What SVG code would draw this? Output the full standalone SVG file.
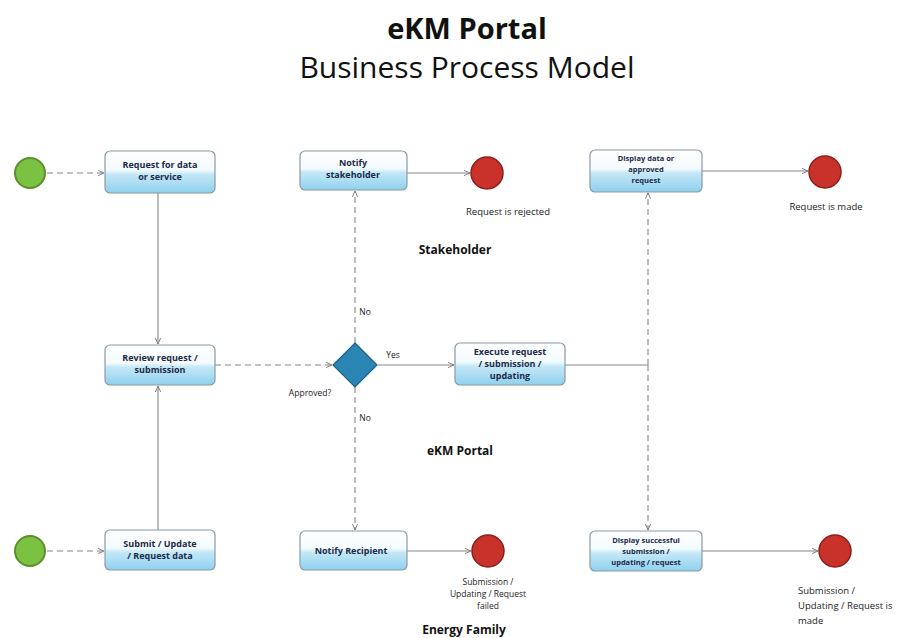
<svg xmlns="http://www.w3.org/2000/svg" width="920" height="638" viewBox="0 0 920 638">
<defs>
<linearGradient id="tg" x1="0" y1="0" x2="0" y2="1">
<stop offset="0" stop-color="#ffffff"/>
<stop offset="0.45" stop-color="#f4fbfe"/>
<stop offset="0.55" stop-color="#c4e8f6"/>
<stop offset="1" stop-color="#8fd0ee"/>
</linearGradient>
<marker id="ar" viewBox="0 0 10 10" refX="9" refY="5" markerWidth="6" markerHeight="6" orient="auto">
<path d="M0,1 L9,5 L0,9" fill="none" stroke="#777" stroke-width="1.4"/>
</marker>
<style>
.task rect{fill:url(#tg);stroke:#8a9aa6;stroke-width:1.2}
.task text{font-family:"Open Sans","Liberation Sans",sans-serif;font-size:9px;font-weight:bold;fill:#1b2a4a;text-anchor:middle}
.task text.sm{font-size:7.5px}
.start{fill:#7cc242;stroke:#5a8f2c;stroke-width:2}
.end{fill:#c8322b;stroke:#8e1e1a;stroke-width:1.5}
.lbl{font-family:"Open Sans","Liberation Sans",sans-serif;font-size:9.5px;fill:#222}
.lbl.s{font-size:8.5px}
.lane{font-family:"Open Sans","Liberation Sans",sans-serif;font-size:12px;font-weight:bold;fill:#111;text-anchor:middle}
.c line,.c path{stroke:#888;stroke-width:1.1;fill:none}
.d{stroke-dasharray:6 4}
</style>
</defs>
<rect width="920" height="638" fill="#ffffff"/>
<g id="title">
<text x="467" y="39" font-family="'Open Sans','Liberation Sans',sans-serif" font-size="29" font-weight="bold" fill="#111" text-anchor="middle">eKM Portal</text>
<text x="467" y="78" font-family="'Open Sans','Liberation Sans',sans-serif" font-size="30" fill="#111" text-anchor="middle">Business Process Model</text>
</g>
<g id="connectors" class="c">
<line class="d" x1="47" y1="173" x2="104" y2="173" marker-end="url(#ar)"/>
<line x1="158" y1="193" x2="158" y2="344" marker-end="url(#ar)"/>
<line x1="158" y1="530" x2="158" y2="386" marker-end="url(#ar)"/>
<line class="d" x1="215" y1="365" x2="332" y2="365" marker-end="url(#ar)"/>
<line class="d" x1="355" y1="343" x2="355" y2="191" marker-end="url(#ar)"/>
<line class="d" x1="355" y1="387" x2="355" y2="530" marker-end="url(#ar)"/>
<line x1="378" y1="365" x2="454" y2="365" marker-end="url(#ar)"/>
<line x1="565" y1="365" x2="648" y2="365"/>
<line class="d" x1="648" y1="365" x2="648" y2="193" marker-end="url(#ar)"/>
<line class="d" x1="648" y1="365" x2="648" y2="530" marker-end="url(#ar)"/>
<line x1="407" y1="173" x2="470" y2="173" marker-end="url(#ar)"/>
<line x1="702" y1="171" x2="808" y2="171" marker-end="url(#ar)"/>
<line class="d" x1="47" y1="551" x2="104" y2="551" marker-end="url(#ar)"/>
<line x1="407" y1="551" x2="471" y2="551" marker-end="url(#ar)"/>
<line x1="702" y1="551" x2="818" y2="551" marker-end="url(#ar)"/>
</g>
<g id="start1"><circle class="start" cx="30" cy="173" r="15"/></g>
<g id="t-request" class="task"><rect x="105" y="151" width="110" height="42" rx="5"/><text x="160" y="168">Request for data</text><text x="160" y="180">or service</text></g>
<g id="t-notify-stakeholder" class="task"><rect x="300" y="151" width="107" height="39" rx="5"/><text x="353" y="166">Notify</text><text x="353" y="178">stakeholder</text></g>
<g id="end-rejected"><circle class="end" cx="487" cy="173" r="16"/><text class="lbl" x="508" y="215" text-anchor="middle">Request is rejected</text></g>
<g id="t-display-data" class="task"><rect x="590" y="150" width="112" height="42" rx="5"/><text class="sm" x="646" y="161">Display data or</text><text class="sm" x="646" y="172">approved</text><text class="sm" x="646" y="183">request</text></g>
<g id="end-made"><circle class="end" cx="825" cy="172" r="16"/><text class="lbl" x="826" y="210" text-anchor="middle">Request is made</text></g>
<g id="lane-stakeholder"><text class="lane" x="455" y="254">Stakeholder</text></g>
<g id="t-review" class="task"><rect x="105" y="345" width="110" height="40" rx="5"/><text x="160" y="361">Review request /</text><text x="160" y="373">submission</text></g>
<g id="gw-approved">
<path d="M355,343 L377,365 L355,387 L333,365 Z" fill="#2b86b6" stroke="#1d5f84" stroke-width="1.2"/>
<text class="lbl s" x="310" y="396" text-anchor="middle">Approved?</text>
<text class="lbl s" x="365" y="315" text-anchor="middle">No</text>
<text class="lbl s" x="365" y="421" text-anchor="middle">No</text>
<text class="lbl s" x="393" y="358" text-anchor="middle">Yes</text>
</g>
<g id="t-execute" class="task"><rect x="455" y="343" width="110" height="42" rx="5"/><text x="510" y="355">Execute request</text><text x="510" y="367">/ submission /</text><text x="510" y="379">updating</text></g>
<g id="lane-ekm"><text class="lane" x="460" y="455">eKM Portal</text></g>
<g id="start2"><circle class="start" cx="30" cy="551" r="15"/></g>
<g id="t-submit" class="task"><rect x="105" y="530" width="110" height="40" rx="5"/><text x="160" y="547">Submit / Update</text><text x="160" y="559">/ Request data</text></g>
<g id="t-notify-recipient" class="task"><rect x="300" y="531" width="107" height="39" rx="5"/><text x="351" y="554">Notify Recipient</text></g>
<g id="end-failed"><circle class="end" cx="488" cy="551" r="16"/><text class="lbl s" x="488" y="585" text-anchor="middle">Submission /</text><text class="lbl s" x="488" y="597" text-anchor="middle">Updating / Request</text><text class="lbl s" x="488" y="609" text-anchor="middle">failed</text></g>
<g id="lane-energy"><text class="lane" x="464" y="634">Energy Family</text></g>
<g id="t-display-success" class="task"><rect x="590" y="531" width="112" height="40" rx="5"/><text class="sm" x="646" y="543">Display successful</text><text class="sm" x="646" y="554">submission /</text><text class="sm" x="646" y="565">updating / request</text></g>
<g id="end-made2"><circle class="end" cx="835" cy="551" r="16"/><text class="lbl" x="798" y="594">Submission /</text><text class="lbl" x="798" y="609">Updating / Request is</text><text class="lbl" x="798" y="624">made</text></g>
</svg>
